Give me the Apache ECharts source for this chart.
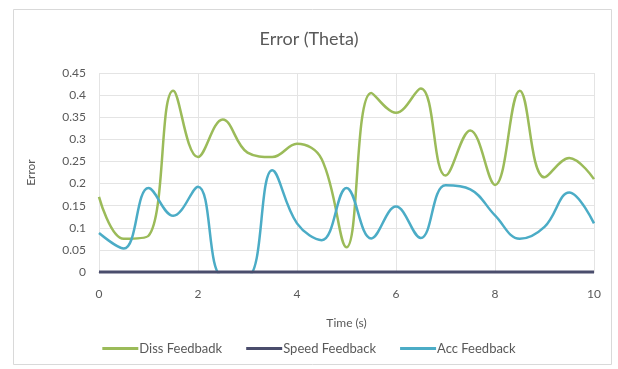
<!DOCTYPE html>
<html>
<head>
<meta charset="utf-8">
<script src="https://cdn.jsdelivr.net/npm/echarts@6/dist/echarts.min.js"></script>
<style>
  html, body { margin: 0; padding: 0; background: #ffffff; }
  #chart { width: 618px; height: 369px; }
</style>
</head>
<body>
<div id="chart"></div>
<script>
// Sample times (s)
const timeS = [0, 0.5, 1, 1.5, 2, 2.5, 3, 3.5, 4, 4.5, 5, 5.5, 6, 6.5, 7, 7.5, 8, 8.5, 9, 9.5, 10];
// Error values per controller
const dissFeedback = [0.17, 0.075, 0.082, 0.41, 0.26, 0.345, 0.27, 0.26, 0.29, 0.255, 0.056, 0.405, 0.36, 0.415, 0.218, 0.32, 0.197, 0.41, 0.214, 0.258, 0.21];
const speedFeedback = [0, 0, 0, 0, 0, 0, 0, 0, 0, 0, 0, 0, 0, 0, 0, 0, 0, 0, 0, 0, 0];
const accFeedback = [0.088, 0.053, 0.19, 0.127, 0.193, -0.01, -0.01, 0.23, 0.11, 0.072, 0.19, 0.076, 0.148, 0.077, 0.196, 0.187, 0.128, 0.075, 0.102, 0.18, 0.11];
const seriesNames = ['Diss Feedbadk', 'Speed Feedback', 'Acc Feedback'];
const yTicks = { min: 0, max: 0.45, step: 0.05 };
const xTicks = { min: 0, max: 10, step: 2 };

const pairs = (ys) => timeS.map((t, i) => [t, ys[i]]);
const font = 'Lato, "Open Sans", sans-serif';
const textGrey = '#595959';
const colors = { diss: '#9bbb59', speed: '#4a4d6c', acc: '#4bacc6' };

const chart = echarts.init(document.getElementById('chart'), null, { renderer: 'canvas' });
chart.setOption({
  backgroundColor: '#ffffff',
  animation: false,
  graphic: [{
    type: 'rect',
    shape: { x: 13.5, y: 9.5, width: 598, height: 355 },
    style: { fill: 'none', stroke: '#d9d9d9', lineWidth: 1 },
    silent: true
  }],
  title: {
    text: 'Error (Theta)',
    left: 'center',
    top: 25,
    textStyle: { fontFamily: font, fontSize: 18, fontWeight: 'normal', color: textGrey }
  },
  grid: { left: 99, right: 24, top: 73, bottom: 97 },
  legend: {
    bottom: 9,
    left: 'center',
    itemWidth: 36,
    itemHeight: 3,
    itemGap: 24,
    icon: 'rect',
    textStyle: { fontFamily: font, fontSize: 13, color: textGrey, padding: [0, 0, 0, -4] },
    data: seriesNames
  },
  xAxis: {
    type: 'value',
    min: xTicks.min,
    max: xTicks.max,
    interval: xTicks.step,
    name: 'Time (s)',
    nameLocation: 'middle',
    nameGap: 45,
    nameTextStyle: { fontFamily: font, fontSize: 12, color: textGrey },
    axisLine: { show: true, lineStyle: { color: '#bfbfbf' } },
    axisTick: { show: false },
    axisLabel: { fontFamily: font, fontSize: 12, color: textGrey, margin: 16 },
    splitLine: { show: true, lineStyle: { color: '#e4e4e4', width: 1 } }
  },
  yAxis: {
    type: 'value',
    min: yTicks.min,
    max: yTicks.max,
    interval: yTicks.step,
    name: 'Error',
    nameLocation: 'middle',
    nameGap: 62,
    nameRotate: 90,
    nameTextStyle: { fontFamily: font, fontSize: 12, color: textGrey },
    axisLine: { show: false },
    axisTick: { show: false },
    axisLabel: {
      fontFamily: font, fontSize: 12, color: textGrey, margin: 13,
      formatter: (v) => String(parseFloat(v.toFixed(2)))
    },
    splitLine: { show: true, lineStyle: { color: '#e4e4e4', width: 1 } }
  },
  // Speed is listed last so its flat line is painted over the zero baseline
  series: [
    {
      name: seriesNames[0], type: 'line', data: pairs(dissFeedback),
      smooth: 0.4, symbol: 'none', clip: true,
      lineStyle: { color: colors.diss, width: 2.5 }, itemStyle: { color: colors.diss }
    },
    {
      name: seriesNames[2], type: 'line', data: pairs(accFeedback),
      smooth: 0.4, symbol: 'none', clip: true,
      lineStyle: { color: colors.acc, width: 2.5 }, itemStyle: { color: colors.acc }
    },
    {
      name: seriesNames[1], type: 'line', data: pairs(speedFeedback),
      smooth: 0.4, symbol: 'none', clip: false,
      lineStyle: { color: colors.speed, width: 3 }, itemStyle: { color: colors.speed }
    }
  ]
});
</script>
</body>
</html>
